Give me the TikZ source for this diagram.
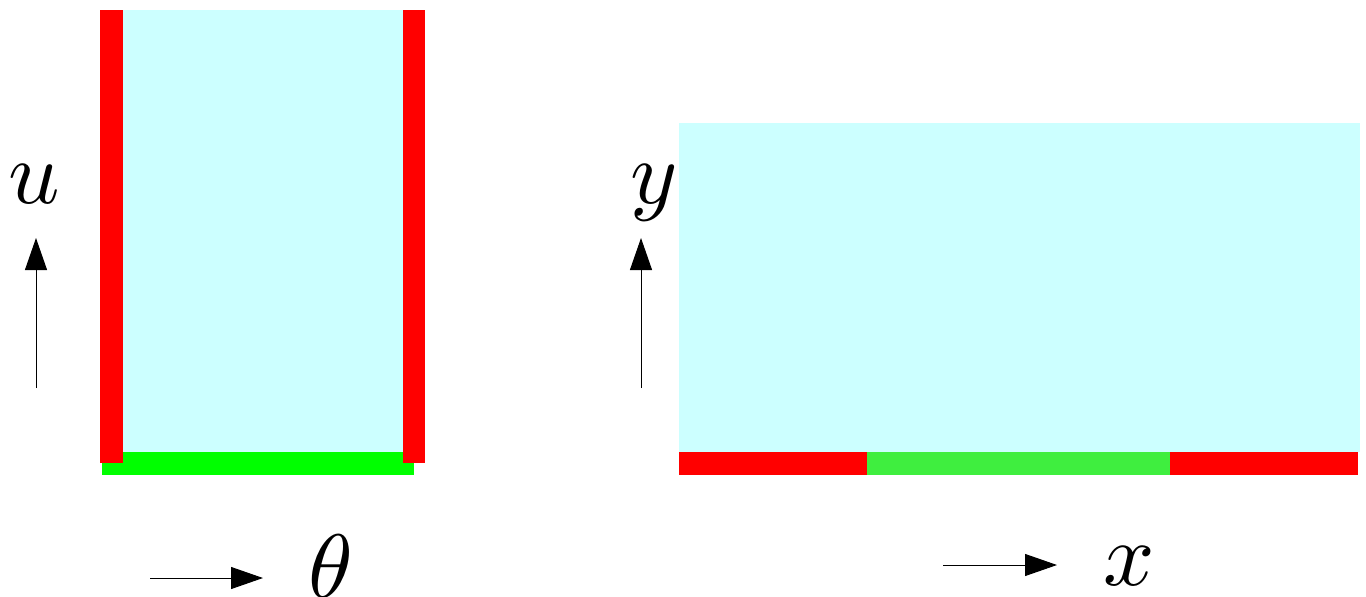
\documentclass[tikz,border=0pt]{standalone}
\usepackage{graphicx}
\usetikzlibrary{arrows.meta}
\definecolor{pale}{HTML}{CCFFFF}
\definecolor{bred}{HTML}{FF0000}
\definecolor{bgreen}{HTML}{00FF00}
\definecolor{mgreen}{HTML}{3FEE3F}
\newcommand{\biglbl}[1]{\scalebox{4.5}{$#1$}}
\begin{document}
\begin{tikzpicture}[x=0.5pt,y=-0.5pt,
  lbl/.style={anchor=base west,inner sep=0pt},
  axis/.style={line width=0.5pt,-{Triangle[length=16pt,width=11pt]}}]
\useasboundingbox (0,0) rectangle (1366,596);
% left domain
\fill[pale] (123,10) rectangle (403,452);
\fill[bgreen] (102,452) rectangle (414,475);
\fill[bred] (100,10) rectangle (123,463);
\fill[bred] (403,10) rectangle (425,463);
% right domain
\fill[pale] (679,123) rectangle (1360,452);
\fill[bred] (679,452) rectangle (867,475);
\fill[mgreen] (867,452) rectangle (1170,475);
\fill[bred] (1170,452) rectangle (1358,475);
% axes
\coordinate (ua) at (36,388); \coordinate (ub) at (36,238);
\coordinate (ta) at (150,578); \coordinate (tb) at (263,578);
\coordinate (ya) at (641,388); \coordinate (yb) at (641,238);
\coordinate (xa) at (943,565); \coordinate (xb) at (1057,565);
\draw[axis] (ua) -- (ub);
\draw[axis] (ta) -- (tb);
\draw[axis] (ya) -- (yb);
\draw[axis] (xa) -- (xb);
\node[lbl] (u) at (8,203) {\biglbl{u}};
\node[lbl] (th) at (308,597) {\biglbl{\theta}};
\node[lbl] (y) at (630,203) {\biglbl{y}};
\node[lbl] (x) at (1103,585) {\biglbl{x}};
\end{tikzpicture}
\end{document}
